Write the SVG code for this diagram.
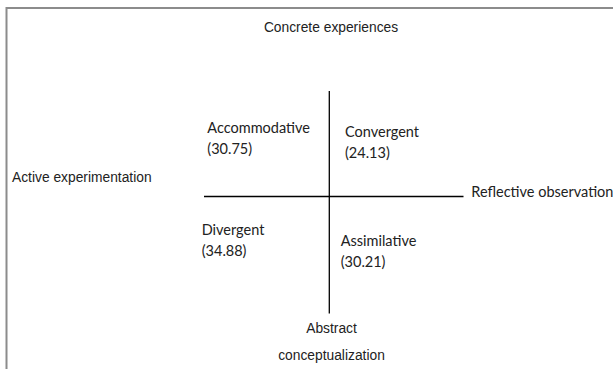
<svg xmlns="http://www.w3.org/2000/svg" width="613" height="369" viewBox="0 0 613 369">
<style>
.ax{font-family:"Liberation Sans",Arial,sans-serif;font-size:13.8px;fill:#222}
.q{font-family:Lato,"Noto Sans",sans-serif;font-size:14.5px;fill:#222}
.ln{stroke:#000;stroke-width:1.3;fill:none}
.bd{stroke:#8c8c8c;stroke-width:2;fill:none}
</style>
<rect width="613" height="369" fill="#fff"/>
<g id="frame"><path class="bd" d="M6.5,370 V8 H613"/></g>
<g id="connectors">
<line class="ln" x1="329.3" y1="91" x2="329.3" y2="313.5"/>
<line class="ln" x1="204" y1="196.5" x2="463.5" y2="196.5"/>
</g>
<g id="concrete"><text class="ax" x="331" y="32" text-anchor="middle">Concrete experiences</text></g>
<g id="active"><text class="ax" x="12" y="181.7">Active experimentation</text></g>
<g id="reflective"><text class="q" x="471.3" y="196.7">Reflective observation</text></g>
<g id="abstract"><text class="ax" x="331.5" y="333.3" text-anchor="middle">Abstract</text><text class="ax" x="331.5" y="360" text-anchor="middle">conceptualization</text></g>
<g id="accommodative"><text class="q" x="207.3" y="133.3">Accommodative</text><text class="q" x="207.3" y="154.3">(30.75)</text></g>
<g id="convergent"><text class="q" x="345" y="137">Convergent</text><text class="q" x="345" y="158">(24.13)</text></g>
<g id="divergent"><text class="q" x="201.7" y="235">Divergent</text><text class="q" x="201.7" y="256">(34.88)</text></g>
<g id="assimilative"><text class="q" x="340.7" y="245.7">Assimilative</text><text class="q" x="340.7" y="266.7">(30.21)</text></g>
</svg>
